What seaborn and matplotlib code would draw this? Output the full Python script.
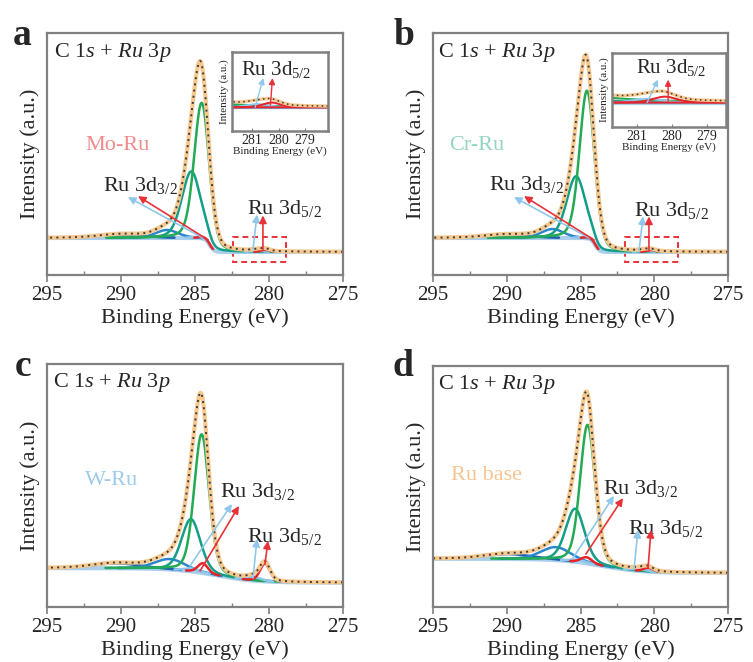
import numpy as np
import pandas as pd
import matplotlib
matplotlib.use("Agg")
import matplotlib.pyplot as plt
from matplotlib.patches import Rectangle
import seaborn as sns

sns.set_theme(style="white")
plt.rcParams["font.family"] = "serif"
plt.rcParams["font.serif"] = ["Liberation Serif", "DejaVu Serif"]
plt.rcParams["mathtext.fontset"] = "custom"
plt.rcParams["mathtext.rm"] = "Liberation Serif"
plt.rcParams["mathtext.it"] = "Liberation Serif:italic"
plt.rcParams["mathtext.bf"] = "Liberation Serif:bold"

# ---------------- data ----------------
panel_letters = ["a", "b", "c", "d"]
sample_names = ["Mo-Ru", "Cr-Ru", "W-Ru", "Ru base"]
sample_colors = ["#F28C8C", "#93D4C2", "#9CCCEB", "#F6C692"]

component_names = ["C-C", "C-O", "C=O", "O-C=O",
                   "Ru0 3d5/2", "RuOx 3d5/2", "Ru0 3d3/2", "RuOx 3d3/2"]
component_colors = ["#24AA55", "#139E88", "#2C86CC", "#1E5FAE",
                    "#E8232A", "#8FC8EC", "#E8232A", "#8FC8EC"]

# peak centres (eV), heights above background (a.u.), FWHM (eV) per panel
peak_centers = [
    [284.55, 285.25, 286.90, 290.00, 280.25, 280.80, 284.42, 284.97],
    [284.56, 285.30, 286.90, 290.00, 280.20, 280.70, 284.37, 284.87],
    [284.55, 285.27, 286.70, 290.30, 280.27, 281.00, 284.47, 285.20],
    [284.52, 285.37, 286.66, 289.85, 280.40, 281.00, 284.60, 285.20],
]
peak_heights = [
    [56.0, 27.5, 3.3, 1.4, 0.9, 0.6, 0.6, 0.4],
    [61.0, 25.5, 3.7, 1.3, 0.8, 0.5, 0.5, 0.35],
    [57.0, 21.5, 4.3, 2.0, 7.3, 1.5, 4.0, 1.2],
    [57.5, 22.0, 5.4, 2.0, 1.6, 0.8, 2.5, 1.0],
]
peak_fwhm = [
    [1.2, 1.5, 1.8, 3.5, 0.8, 1.0, 0.8, 1.0],
    [1.2, 1.5, 1.8, 3.5, 0.8, 1.0, 0.8, 1.0],
    [1.2, 1.5, 2.4, 3.8, 0.8, 1.2, 0.8, 1.2],
    [1.2, 1.5, 2.4, 3.8, 0.8, 1.2, 0.9, 1.2],
]
lorentz_fraction = 0.25

# Shirley-type background: low-BE level, high-BE level, step centre, step width
bg_low = [9.5, 9.5, 10.0, 14.1]
bg_high = [15.3, 15.3, 16.0, 20.0]
bg_center = [284.0, 284.0, 283.5, 283.5]
bg_width = [0.15, 0.15, 1.4, 1.4]

x_ticks = [295, 290, 285, 280, 275]
inset_ticks = [281, 280, 279]

energy = np.linspace(275, 295, 1601)


def pseudo_voigt(x, c, h, w, eta):
    g = np.exp(-4 * np.log(2) * (x - c) ** 2 / w ** 2)
    l = 1.0 / (1.0 + 4 * (x - c) ** 2 / w ** 2)
    return h * ((1 - eta) * g + eta * l)


def build_frame(i):
    bg = bg_low[i] + (bg_high[i] - bg_low[i]) / (1 + np.exp(-(energy - bg_center[i]) / bg_width[i]))
    df = pd.DataFrame({"energy": energy, "background": bg})
    env = bg.copy()
    for name, c, h, w in zip(component_names, peak_centers[i], peak_heights[i], peak_fwhm[i]):
        comp = pseudo_voigt(energy, c, h, w, lorentz_fraction)
        df[name] = bg + comp
        df[name + "_mask"] = np.where(comp > 0.12, bg + comp, np.nan)
        env = env + comp
    df["envelope"] = env
    return df


# ---------------- layout ----------------
W, H = 753, 662
fig = plt.figure(figsize=(W / 100, H / 100), dpi=100)


def px_axes(l, t, r, b):
    return fig.add_axes([l / W, 1 - b / H, (r - l) / W, (b - t) / H])


main_boxes = [(47, 33, 343, 275), (433, 33, 728, 275), (47, 364, 343, 607), (433, 366, 728, 607)]
letter_pos = [(13, 45), (393, 45), (15, 376), (393, 376)]
inset_boxes = {0: (232, 52, 328, 131), 1: (612, 53, 726, 127)}
inset_xlim = {0: (281.77, 278.12), 1: (281.71, 278.46)}
inset_ylim = {0: (5.0, 20.0), 1: (6.2, 16.2)}
dash_boxes = {0: (278.85, 282.4, 5.4, 15.7), 1: (278.4, 282.0, 5.4, 15.7)}

label_pos = [(294.5, 92.1), (294.66, 92.1), (294.6, 92.2), (294.66, 92.5)]
sample_pos = [(292.4, 53.7), (293.9, 53.7), (292.4, 51.9), (293.8, 54.4)]
d32_text = [(291.2, 34.6), (291.2, 35.1), (283.3, 45.3), (283.5, 46.9)]
d52_text = [(281.5, 25.4), (281.4, 24.4), (281.5, 26.7), (281.8, 30.3)]
# arrows: (tail, head) for light blue and red
d32_arrows = [
    [((284.46, 15.3), (289.53, 32.2)), ((284.12, 14.5), (288.85, 32.6))],
    [((284.42, 15.3), (289.51, 32.2)), ((284.08, 14.5), (288.83, 32.6))],
    [((285.34, 16.9), (282.50, 42.4)), ((284.66, 14.8), (282.03, 41.6))],
    [((285.51, 20.3), (282.73, 46.1)), ((284.63, 22.0), (282.12, 45.2))],
]
d52_arrows = [
    [((281.08, 10.7), (280.81, 25.0)), ((280.41, 10.3), (280.41, 24.6))],
    [((281.03, 10.3), (280.76, 24.2)), ((280.36, 9.9), (280.36, 24.2))],
    [((281.08, 11.9), (280.81, 28.0)), ((280.27, 17.7), (280.07, 27.2))],
    [((281.37, 15.8), (281.10, 32.0)), ((280.42, 16.2), (280.22, 32.0))],
]
inset_arrows = {
    0: [((280.89, 0.30), (280.58, 0.67)), ((280.31, 0.33), (280.23, 0.67))],
    1: [((280.71, 0.33), (280.40, 0.64)), ((280.11, 0.34), (280.11, 0.64))],
}
inset_text = {0: (0.09, 0.71), 1: (0.21, 0.73)}

arrow_colors = ["#8FC8EC", "#E8323A"]
spine_color = "#808080"
bg_color = "#A9CFEC"
env_color = "#F8C98F"


def draw_curves(ax, df, masked=True, lw_scale=1.0):
    sns.lineplot(data=df, x="energy", y="background", ax=ax, color=bg_color,
                 linewidth=3.0 * lw_scale, estimator=None, sort=False)
    order = [3, 2, 1, 0, 5, 7, 4, 6]
    for k in order:
        name = component_names[k]
        col = name + "_mask" if masked else name
        sns.lineplot(data=df, x="energy", y=col, ax=ax, color=component_colors[k],
                     linewidth=1.8 * lw_scale, estimator=None, sort=False)
    sns.lineplot(data=df, x="energy", y="envelope", ax=ax, color=env_color,
                 linewidth=3.0 * lw_scale, estimator=None, sort=False)
    sns.lineplot(data=df, x="energy", y="envelope", ax=ax, color="#3A3A3A",
                 linewidth=1.4 * lw_scale, linestyle=(0, (1, 2.2)), estimator=None, sort=False)


sub = r"$_{\mathregular{%s}}$"

for i in range(4):
    df = build_frame(i)
    ax = px_axes(*main_boxes[i])
    draw_curves(ax, df)
    ax.set_xlim(295, 275)
    ax.set_ylim(0, 100)
    ax.set_yticks([])
    ax.set_xticks(x_ticks)
    ax.set_xticks(np.arange(275, 295.1, 2.5), minor=True)
    ax.tick_params(axis="x", which="major", direction="out", length=5, width=1.2,
                   color=spine_color, labelsize=15, pad=3, bottom=True)
    ax.tick_params(axis="x", which="minor", direction="in", length=3, width=1.0,
                   color=spine_color, bottom=True)
    for s in ax.spines.values():
        s.set_color(spine_color)
        s.set_linewidth(1.6)
    ax.set_xlabel("Binding Energy (eV)", fontsize=16, labelpad=2)
    ax.set_ylabel("Intensity (a.u.)", fontsize=16, labelpad=5)
    ax.text(*label_pos[i], r"C 1$\mathit{s}$ + $\mathit{Ru\ 3p}$", fontsize=16,
            ha="left", va="center")
    ax.text(*sample_pos[i], sample_names[i], fontsize=16, color=sample_colors[i],
            ha="left", va="center")
    ax.text(*d32_text[i], "Ru 3d" + sub % "3/2", fontsize=16, ha="left", va="baseline")
    ax.text(*d52_text[i], "Ru 3d" + sub % "5/2", fontsize=16, ha="left", va="baseline")
    for (tail, head), col in zip(d32_arrows[i] + d52_arrows[i], arrow_colors * 2):
        ax.annotate("", xy=head, xytext=tail,
                    arrowprops=dict(arrowstyle="-|>", color=col, lw=1.2,
                                    mutation_scale=11, shrinkA=0, shrinkB=0))
    fig.text(letter_pos[i][0] / W, 1 - letter_pos[i][1] / H, panel_letters[i],
             fontsize=27, fontweight="bold", ha="left", va="baseline")

    if i in inset_boxes:
        x0, x1, y0, y1 = dash_boxes[i]
        ax.add_patch(Rectangle((x0, y0), x1 - x0, y1 - y0, fill=False,
                               edgecolor="#E8323A", linestyle=(0, (3, 2)), linewidth=1.4))
        ins = px_axes(*inset_boxes[i])
        draw_curves(ins, df, masked=False, lw_scale=0.8)
        ins.set_xlim(*inset_xlim[i])
        ins.set_ylim(*inset_ylim[i])
        ins.set_yticks([])
        ins.set_xticks(inset_ticks)
        ins.tick_params(axis="x", direction="in", length=2, width=0.8, color=spine_color,
                        labelsize=10, pad=2, bottom=True)
        for s in ins.spines.values():
            s.set_color(spine_color)
            s.set_linewidth(1.8)
        ins.set_xlabel("Binding Energy (eV)", fontsize=8, labelpad=0)
        ins.set_ylabel("Intensity (a.u.)", fontsize=8, labelpad=2)
        ins.text(*inset_text[i], "Ru 3d" + sub % "5/2", fontsize=15,
                 transform=ins.transAxes, ha="left", va="baseline")
        for (tail, head), col in zip(inset_arrows[i], arrow_colors):
            ins.annotate("", xy=head, xytext=tail, xycoords=("data", "axes fraction"),
                         textcoords=("data", "axes fraction"),
                         arrowprops=dict(arrowstyle="-|>", color=col, lw=1.0,
                                         mutation_scale=9, shrinkA=0, shrinkB=0))

fig.savefig("out.png", dpi=100)
